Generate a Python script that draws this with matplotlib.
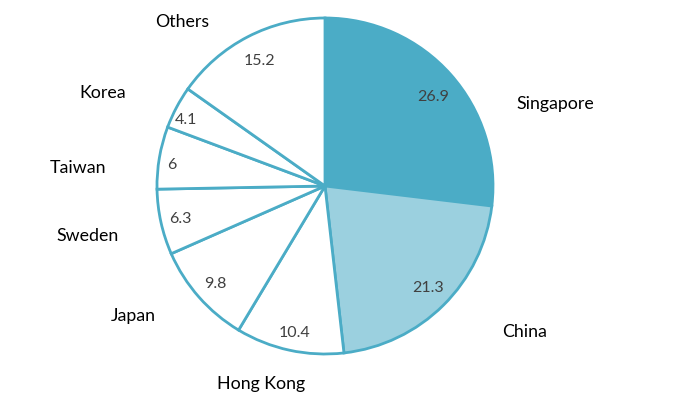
import matplotlib
matplotlib.use("Agg")
import matplotlib.pyplot as plt

categories = ["Singapore", "China", "Hong Kong", "Japan", "Sweden", "Taiwan", "Korea", "Others"]
values = [26.9, 21.3, 10.4, 9.8, 6.3, 6, 4.1, 15.2]
value_labels = ["26.9", "21.3", "10.4", "9.8", "6.3", "6", "4.1", "15.2"]

colors = ["#4BACC6", "#9BD0DF", "white", "white", "white", "white", "white", "white"]
edge = "#4BACC6"

# label placement (in pie-radius units)
cat_pos = [(1.369, 0.488), (1.185, -0.869), (-0.381, -1.179), (-1.143, -0.774),
           (-1.411, -0.298), (-1.470, 0.107), (-1.321, 0.554), (-0.851, 0.976)]
val_pos = [(0.643, 0.530), (0.613, -0.607), (-0.179, -0.875), (-0.655, -0.583),
           (-0.863, -0.196), (-0.911, 0.125), (-0.827, 0.393), (-0.387, 0.744)]

W, H = 674, 405
fig = plt.figure(figsize=(W / 100, H / 100), dpi=100)
cx, cy, r = 325, 186, 168
ax = fig.add_axes([(cx - r) / W, (H - cy - r) / H, 2 * r / W, 2 * r / H])
ax.pie(values, colors=colors, startangle=90, counterclock=False, radius=1,
       wedgeprops=dict(edgecolor=edge, linewidth=2, joinstyle="miter"))
ax.set_xlim(-1, 1)
ax.set_ylim(-1, 1)
ax.set_axis_off()

font = "Lato"
for name, (x, y) in zip(categories, cat_pos):
    ax.text(x, y, name, ha="center", va="center", fontsize=12.8, family=font,
            color="black", clip_on=False)
for lab, (x, y) in zip(value_labels, val_pos):
    ax.text(x, y, lab, ha="center", va="center", fontsize=11.5, family=font,
            color="#404040", clip_on=False)

fig.savefig("out.png", dpi=100, facecolor="white")
